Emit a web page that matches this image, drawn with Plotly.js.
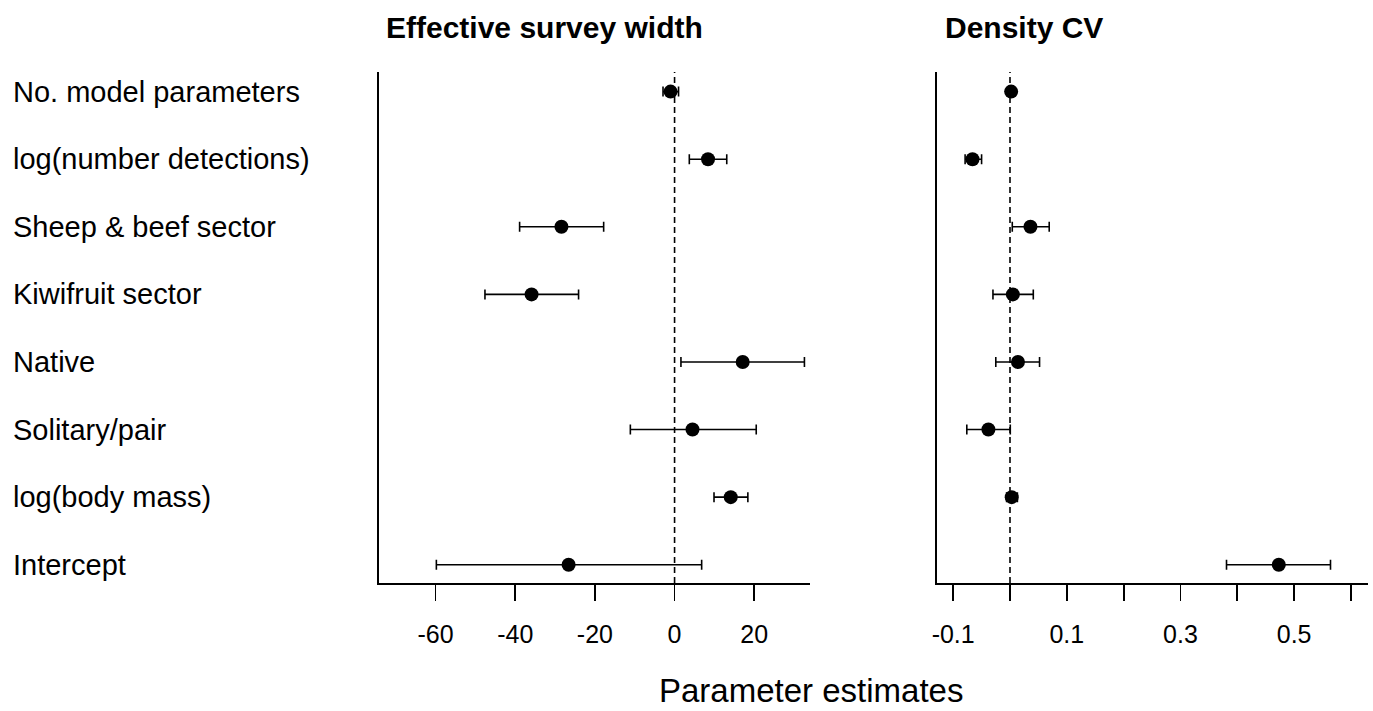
<!DOCTYPE html>
<html>
<head>
<meta charset="utf-8">
<script src="https://cdn.plot.ly/plotly-3.0.1.min.js"></script>
<style>html,body{margin:0;padding:0;background:#fff;}#chart{width:1373px;height:711px;}</style>
</head>
<body>
<div id="chart"></div>
<script>
// Categories, top to bottom
const categories = ["No. model parameters", "log(number detections)", "Sheep & beef sector", "Kiwifruit sector", "Native", "Solitary/pair", "log(body mass)", "Intercept"];

// Effective survey width: estimate, lower CI, upper CI
const eswEst = [-1.0, 8.4, -28.4, -35.9, 17.1, 4.5, 14.1, -26.6];
const eswLo  = [-2.9, 3.7, -38.9, -47.6, 1.6, -11.1, 9.9, -59.8];
const eswHi  = [1.0, 13.1, -17.8, -24.1, 32.6, 20.5, 18.4, 6.8];

// Density CV: estimate, lower CI, upper CI
const cvEst = [0.002, -0.066, 0.036, 0.005, 0.014, -0.038, 0.003, 0.473];
const cvLo  = [0.000, -0.079, 0.004, -0.030, -0.025, -0.076, -0.006, 0.381];
const cvHi  = [0.004, -0.050, 0.069, 0.041, 0.052, 0.0005, 0.013, 0.564];

// Tick values and labels
const eswTicks = [-60, -40, -20, 0, 20];
const eswTickText = ["-60", "-40", "-20", "0", "20"];
const cvTicks = [-0.1, 0, 0.1, 0.2, 0.3, 0.4, 0.5, 0.6];
const cvTickText = ["-0.1", "", "0.1", "", "0.3", "", "0.5", ""];

const panelTitles = ["Effective survey width", "Density CV"];
const xTitle = "Parameter estimates";

const n = categories.length;
const ypos = categories.map((c, i) => n - i);
const FONT = "Liberation Sans, Arial, sans-serif";

function trace(est, lo, hi, xa, ya) {
  return {
    type: "scatter", mode: "markers", x: est, y: ypos, xaxis: xa, yaxis: ya,
    marker: {color: "#000", size: 14},
    error_x: {type: "data", symmetric: false,
      array: hi.map((h, i) => h - est[i]),
      arrayminus: lo.map((l, i) => est[i] - l),
      color: "#000", thickness: 1.6, width: 5},
    hoverinfo: "x", showlegend: false, cliponaxis: false
  };
}

const data = [
  trace(eswEst, eswLo, eswHi, "x", "y"),
  trace(cvEst, cvLo, cvHi, "x2", "y2")
];

const xcommon = {
  showline: true, linecolor: "#000", linewidth: 1.8, mirror: false,
  ticks: "outside", ticklen: 16, tickwidth: 1.8, tickcolor: "#000",
  showgrid: false, zeroline: false, tickfont: {family: FONT, size: 25, color: "#000"},
  tickmode: "array", ticklabelstandoff: 12
};
const ycommon = {
  showline: true, linecolor: "#000", linewidth: 1.8, showgrid: false, zeroline: false,
  showticklabels: false, ticks: "", range: [0.73, 8.29]
};

const annotations = categories.map((c, i) => ({
  text: c, xref: "paper", yref: "y", x: -0.3721, y: ypos[i], xanchor: "left", yanchor: "middle",
  showarrow: false, font: {family: FONT, size: 29, color: "#000"}
}));
annotations.push({text: "<b>" + panelTitles[0] + "</b>", xref: "paper", yref: "paper", x: 0, xshift: 5, y: 1.0867,
  xanchor: "left", yanchor: "middle", showarrow: false, font: {family: FONT, size: 30, color: "#000"}});
annotations.push({text: "<b>" + panelTitles[1] + "</b>", xref: "paper", yref: "paper", x: 0.5639, xshift: 6, y: 1.0867,
  xanchor: "left", yanchor: "middle", showarrow: false, font: {family: FONT, size: 30, color: "#000"}});
annotations.push({text: xTitle, xref: "paper", yref: "paper", x: 0.4368, y: -0.2094,
  xanchor: "center", yanchor: "middle", showarrow: false, font: {family: FONT, size: 33, color: "#000"}});

const layout = {
  width: 1373, height: 711,
  margin: {l: 379, r: 5, t: 72, b: 128},
  paper_bgcolor: "#fff", plot_bgcolor: "#fff",
  font: {family: FONT, color: "#000"},
  showlegend: false,
  xaxis: Object.assign({}, xcommon, {domain: [0, 0.4358], range: [-74.2, 34.0], tickvals: eswTicks, ticktext: eswTickText, anchor: "y"}),
  yaxis: Object.assign({}, ycommon, {anchor: "x"}),
  xaxis2: Object.assign({}, xcommon, {domain: [0.5639, 1], range: [-0.129, 0.63], tickvals: cvTicks, ticktext: cvTickText, anchor: "y2"}),
  yaxis2: Object.assign({}, ycommon, {anchor: "x2"}),
  shapes: [
    {type: "line", xref: "x", yref: "paper", x0: 0, x1: 0, y0: 0, y1: 1, line: {color: "#000", width: 1.6, dash: "6px,4px"}, layer: "below"},
    {type: "line", xref: "x2", yref: "paper", x0: 0, x1: 0, y0: 0, y1: 1, line: {color: "#000", width: 1.6, dash: "6px,4px"}, layer: "below"}
  ],
  annotations: annotations
};

Plotly.newPlot("chart", data, layout, {displayModeBar: false, staticPlot: true});
</script>
</body>
</html>
